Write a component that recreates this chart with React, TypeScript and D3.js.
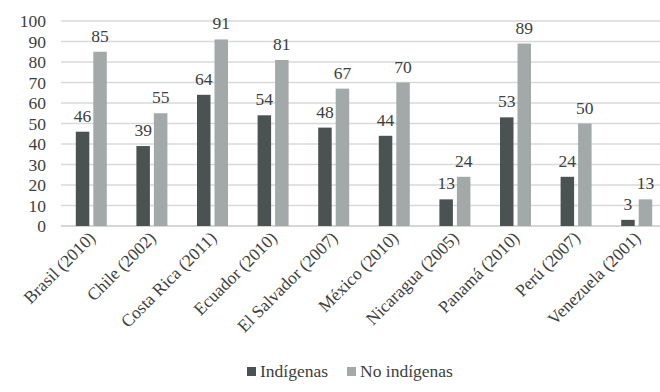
import * as d3 from 'd3';
import React, { useEffect, useRef } from 'react';

const categories = [
    'Brasil (2010)', 'Chile (2002)', 'Costa Rica (2011)', 'Ecuador (2010)', 'El Salvador (2007)',
    'México (2010)', 'Nicaragua (2005)', 'Panamá (2010)', 'Perú (2007)', 'Venezuela (2001)',
];
const indigenas = [46, 39, 64, 54, 48, 44, 13, 53, 24, 3];
const noIndigenas = [85, 55, 91, 81, 67, 70, 24, 89, 50, 13];
const seriesNames = ['Indígenas', 'No indígenas'];
const yTicks = [0, 10, 20, 30, 40, 50, 60, 70, 80, 90, 100];

const App: React.FC = () => {
    const svgRef = useRef<SVGSVGElement | null>(null);

    useEffect(() => {
        const width = 660;
        const height = 392;
        const font = 'Liberation Serif';
        const fontSize = 17.5;
        const colors = ['#4b5352', '#a2a9a8'];
        const textColor = '#404040';

        // Clear the SVG to avoid duplicate renderings
        d3.select(svgRef.current).selectAll('*').remove();

        const svg = d3.select(svgRef.current)
            .attr('width', width)
            .attr('height', height)
            .attr('font-family', font);

        svg.append('rect').attr('width', width).attr('height', height).attr('fill', '#fff');

        // Plot runs a bit past the right edge (the original is cropped)
        const x = d3.scaleBand<string>().domain(categories).range([61, 667]);
        const y = d3.scaleLinear().domain([0, 100]).range([226, 21]);

        const barW = 13.5;
        const gap = 4;

        // Gridlines
        svg.append('g')
            .selectAll('line')
            .data(yTicks)
            .enter()
            .append('line')
            .attr('x1', 61)
            .attr('x2', 667)
            .attr('y1', d => y(d))
            .attr('y2', d => y(d))
            .attr('stroke', d => (d === 0 ? '#c8c8c8' : '#d9d9d9'))
            .attr('stroke-width', 1.3);

        // Y tick labels
        svg.append('g')
            .selectAll('text')
            .data(yTicks)
            .enter()
            .append('text')
            .attr('x', 46)
            .attr('y', d => y(d) + 6)
            .attr('text-anchor', 'end')
            .attr('fill', textColor)
            .attr('font-family', font)
            .attr('font-size', fontSize)
            .text(d => d);

        const series = [indigenas, noIndigenas];
        series.forEach((vals, s) => {
            const g = svg.append('g');
            const offset = s === 0 ? -gap / 2 - barW : gap / 2;
            g.selectAll('rect')
                .data(vals)
                .enter()
                .append('rect')
                .attr('x', (d, i) => (x(categories[i]) as number) + x.bandwidth() / 2 + offset)
                .attr('y', d => y(d))
                .attr('width', barW)
                .attr('height', d => y(0) - y(d))
                .attr('fill', colors[s]);

            // Value labels above the bars
            g.selectAll('text')
                .data(vals)
                .enter()
                .append('text')
                .attr('x', (d, i) => (x(categories[i]) as number) + x.bandwidth() / 2 + offset + barW / 2)
                .attr('y', d => y(d) - 10)
                .attr('text-anchor', 'middle')
                .attr('fill', textColor)
                .attr('font-family', font)
                .attr('font-size', fontSize)
                .text(d => d);
        });

        // Category labels, rotated 45 degrees
        svg.append('g')
            .selectAll('text')
            .data(categories)
            .enter()
            .append('text')
            .attr('transform', d => `translate(${(x(d) as number) + x.bandwidth() / 2 + 5},${239}) rotate(-45)`)
            .attr('text-anchor', 'end')
            .attr('fill', textColor)
            .attr('font-family', font)
            .attr('font-size', fontSize)
            .text(d => d);

        // Legend
        const legend = svg.append('g');
        const legendX = [247, 347];
        seriesNames.forEach((name, i) => {
            legend.append('rect')
                .attr('x', legendX[i])
                .attr('y', 367)
                .attr('width', 9)
                .attr('height', 9)
                .attr('fill', colors[i]);
            legend.append('text')
                .attr('x', legendX[i] + 13)
                .attr('y', 377)
                .attr('fill', textColor)
                .attr('font-family', font)
                .attr('font-size', fontSize)
                .text(name);
        });
    }, []);

    return <svg ref={svgRef} style={{ position: 'absolute', left: 0, top: 0 }}></svg>;
};

export default App;
